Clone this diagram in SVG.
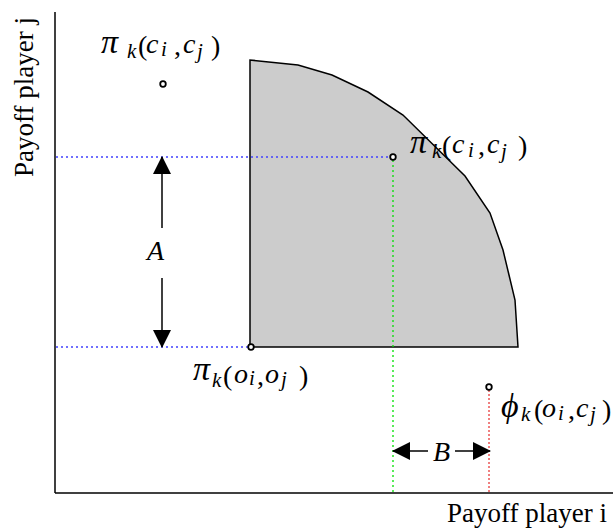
<svg xmlns="http://www.w3.org/2000/svg" width="613" height="529" viewBox="0 0 613 529">
<style>
.ax{stroke:#000;stroke-width:1.5;fill:none}
.dotb{stroke:#4040ff;stroke-width:1.3;stroke-dasharray:2 3;fill:none}
.dotg{stroke:#00e000;stroke-width:1.3;stroke-dasharray:2 3;fill:none}
.dotr{stroke:#e00000;stroke-width:1;stroke-dasharray:2 2;fill:none}
.pt{fill:#fff;stroke:#000;stroke-width:1.8}
.arr{stroke:#000;stroke-width:1.5;fill:none}
text{font-family:"Liberation Serif","Times New Roman",serif;fill:#000;font-size:28px}
.i{font-style:italic}
.g{font-size:34px;font-style:italic}
.s{font-size:21px;font-style:italic}
.lab{font-size:27px}
</style>
<defs>
<marker id="ah" viewBox="0 0 18 18" refX="17" refY="9" markerWidth="18" markerHeight="18" markerUnits="userSpaceOnUse" orient="auto">
<path d="M0,0 L18,9 L0,18 Z" fill="#000"/>
</marker>
</defs>
<g id="axes">
<line class="ax" x1="55" y1="12" x2="55" y2="493"/>
<line class="ax" x1="55" y1="493" x2="613" y2="493"/>
</g>
<g id="region">
<path d="M250,347 L250,60 L298,65 L332,75 L368,92 L403,115 L465,176 L490,213 L503,250 L515,300 L518,347 Z" fill="#cccccc" stroke="#000" stroke-width="1.5"/>
</g>
<g id="connectors">
<line class="dotb" x1="56" y1="157" x2="392" y2="157"/>
<line class="dotb" x1="56" y1="347" x2="250" y2="347"/>
<line class="dotg" x1="393" y1="160" x2="393" y2="493"/>
<line class="dotr" x1="489" y1="390" x2="489" y2="493"/>
<line class="arr" x1="162" y1="228" x2="162" y2="157" marker-end="url(#ah)"/>
<line class="arr" x1="162" y1="278" x2="162" y2="347" marker-end="url(#ah)"/>
<line class="arr" x1="428" y1="451" x2="393" y2="451" marker-end="url(#ah)"/>
<line class="arr" x1="455" y1="451" x2="490" y2="451" marker-end="url(#ah)"/>
</g>
<g id="points">
<circle class="pt" cx="163" cy="84" r="2.8"/>
<circle class="pt" cx="393" cy="157" r="2.8"/>
<circle class="pt" cx="251" cy="347" r="2.8"/>
<circle class="pt" cx="489" cy="387" r="2.8"/>
</g>
<g id="label-ci-cj-top">
<text><tspan class="g" x="101" y="53">π</tspan><tspan class="s" x="127" y="58">k</tspan><tspan x="138" y="55">(</tspan><tspan class="i" x="146" y="53">c</tspan><tspan class="s" x="161" y="56">i</tspan><tspan x="174" y="55">,</tspan><tspan class="i" x="183" y="53">c</tspan><tspan class="s" x="197" y="58">j</tspan><tspan x="211" y="55">)</tspan></text>
</g>
<g id="label-ci-cj">
<text><tspan class="g" x="410" y="153">π</tspan><tspan class="s" x="432" y="158">k</tspan><tspan x="442" y="155">(</tspan><tspan class="i" x="452" y="153">c</tspan><tspan class="s" x="468" y="157">i</tspan><tspan x="478" y="155">,</tspan><tspan class="i" x="487" y="153">c</tspan><tspan class="s" x="501" y="158">j</tspan><tspan x="518" y="155">)</tspan></text>
</g>
<g id="label-oi-oj">
<text><tspan class="g" x="193" y="380">π</tspan><tspan class="s" x="212" y="387">k</tspan><tspan x="223" y="385">(</tspan><tspan class="i" x="234" y="383">o</tspan><tspan class="s" x="249" y="385">i</tspan><tspan x="257" y="385">,</tspan><tspan class="i" x="265" y="383">o</tspan><tspan class="s" x="281" y="386">j</tspan><tspan x="299" y="385">)</tspan></text>
</g>
<g id="label-phi">
<text><tspan class="g" x="501" y="417">ϕ</tspan><tspan class="s" x="521" y="421">k</tspan><tspan x="534" y="419">(</tspan><tspan class="i" x="542" y="417">o</tspan><tspan class="s" x="558" y="420">i</tspan><tspan x="568" y="419">,</tspan><tspan class="i" x="576" y="417">c</tspan><tspan class="s" x="590" y="421">j</tspan><tspan x="602" y="419">)</tspan></text>
</g>
<g id="label-A"><text class="i" x="147" y="260">A</text></g>
<g id="label-B"><text class="i" x="433" y="461">B</text></g>
<g id="axis-labels">
<text class="lab" x="447" y="522">Payoff player i</text>
<text class="lab" text-anchor="middle" transform="translate(33,97) rotate(-90)">Payoff player j</text>
</g>
</svg>
